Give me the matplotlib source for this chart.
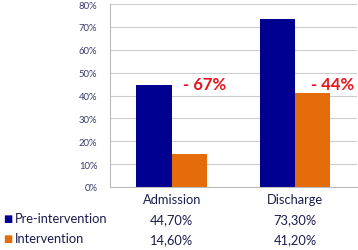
import numpy as np
import matplotlib
matplotlib.use('Agg')
import matplotlib.pyplot as plt
import matplotlib.transforms as mtransforms

plt.rcParams['font.family'] = ['Lato', 'DejaVu Sans']

# Data
categories = ['Admission', 'Discharge']
series_names = ['Pre-intervention', 'Intervention']
pre = [44.7, 73.3]
interv = [14.6, 41.2]
pre_text = ['44,70%', '73,30%']
interv_text = ['14,60%', '41,20%']
change_labels = ['- 67%', '- 44%']
yticks = [0, 10, 20, 30, 40, 50, 60, 70, 80]

blue = '#000090'
orange = '#E46C0A'
txt = '#1c1c50'

fig = plt.figure(figsize=(3.58, 2.51), dpi=100)
ax = fig.add_axes([0.307, 0.251, 0.69, 0.729])

x = np.arange(len(categories))
w = 0.285
ax.bar(x - w / 2, pre, w, color=blue)
ax.bar(x + w / 2, interv, w, color=orange)

# percentage change labels
label_x = [0.09, 1.13]
for lx, lab in zip(label_x, change_labels):
    ax.text(lx, 45, lab, color='#e8141c', fontsize=12, fontweight='bold',
            ha='left', va='center')

ax.set_xlim(-0.5, 1.5)
ax.set_ylim(0, 80)
ax.set_yticks(yticks)
ax.set_yticklabels([f'{t}%' for t in yticks], fontsize=6.8, color='#3a3a6a')
ax.set_xticks([])
ax.tick_params(axis='y', length=0, pad=9)
ax.grid(axis='y', color='#cccccc', linewidth=0.8)
ax.set_axisbelow(True)
for s in ['top', 'right']:
    ax.spines[s].set_visible(False)
for s in ['left', 'bottom']:
    ax.spines[s].set_color('#bbbbbb')

# data table below chart
trans = mtransforms.blended_transform_factory(ax.transData, ax.transAxes)
for i, c in enumerate(categories):
    ax.text(x[i], -0.066, c, transform=trans, ha='center', va='center',
            fontsize=9.3, color=txt)
    ax.text(x[i], -0.175, pre_text[i], transform=trans, ha='center', va='center',
            fontsize=9.3, color=txt)
    ax.text(x[i], -0.285, interv_text[i], transform=trans, ha='center', va='center',
            fontsize=9.3, color=txt)

for name, col, yy in zip(series_names, [blue, orange], [0.126, 0.046]):
    fig.text(0.008, yy, '\u25a0', color=col, fontsize=7, ha='left', va='center',
             family='DejaVu Sans')
    fig.text(0.042, yy, name, color=txt, fontsize=9.3, ha='left', va='center')

fig.savefig('out.png', dpi=100)
